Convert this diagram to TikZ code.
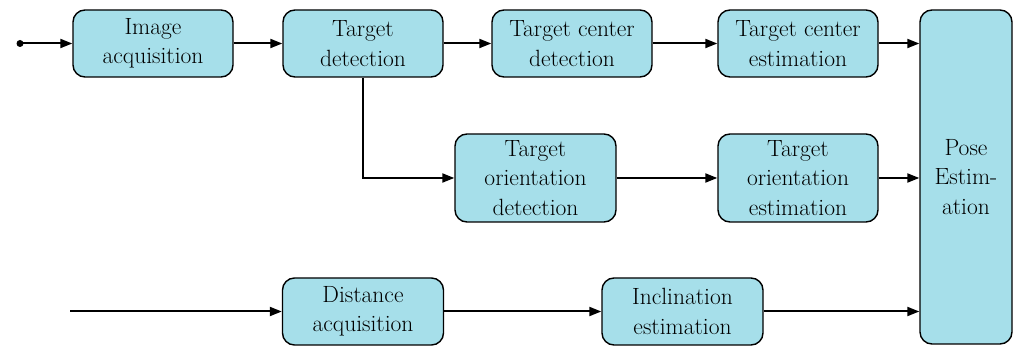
\documentclass[tikz,border=0pt]{standalone}
\usepackage{fontspec}
\usetikzlibrary{arrows.meta}
\definecolor{boxfill}{RGB}{166,223,234}
\tikzset{
  blk/.style={draw=black, line width=1.4pt, fill=boxfill, rounded corners=12pt,
    inner sep=0pt, align=center, font=\fontsize{23.5}{29.5}\selectfont},
  flow/.style={draw=black, line width=2pt, -{Triangle[length=12pt,width=9pt]}},
}
\begin{document}
\begin{tikzpicture}[x=1pt,y=-1pt]
\useasboundingbox (0,0) rectangle (1015,347);
% first row
\node[blk, minimum width=160pt, minimum height=67pt] (ia)  at (153,43.5) {Image\\acquisition};
\node[blk, minimum width=160pt, minimum height=67pt] (td)  at (363,43.5) {Target\\detection};
\node[blk, minimum width=160pt, minimum height=67pt] (tcd) at (572,43.5) {Target center\\detection};
\node[blk, minimum width=160pt, minimum height=67pt] (tce) at (798,43.5) {Target center\\estimation};
% second row
\node[blk, minimum width=161pt, minimum height=88pt] (tod) at (535.5,178) {Target\\orientation\\detection};
\node[blk, minimum width=160pt, minimum height=88pt] (toe) at (798,178) {Target\\orientation\\estimation};
% third row
\node[blk, minimum width=161pt, minimum height=67pt] (da)  at (363,311.5) {Distance\\acquisition};
\node[blk, minimum width=161pt, minimum height=67pt] (ie)  at (682.5,311.5) {Inclination\\estimation};
% fusion block
\node[blk, minimum width=92pt, minimum height=334pt] (pose) at (966,177) {Pose\\Estim-\\ation};
% inputs
\fill (20,43.5) circle (3.5pt);
\coordinate (in1) at (20,43.5);
\coordinate (in2) at (70,311.5);
% connectors
\draw[flow] (in1) -- (ia.west);
\draw[flow] (ia) -- (td);
\draw[flow] (td) -- (tcd);
\draw[flow] (tcd) -- (tce);
\draw[flow] (tce.east) -- (pose.west |- tce.east);
\draw[flow] (td.south) |- (tod.west);
\draw[flow] (tod) -- (toe);
\draw[flow] (toe.east) -- (pose.west |- toe.east);
\draw[flow] (in2) -- (da.west);
\draw[flow] (da) -- (ie);
\draw[flow] (ie.east) -- (pose.west |- ie.east);
\end{tikzpicture}
\end{document}
